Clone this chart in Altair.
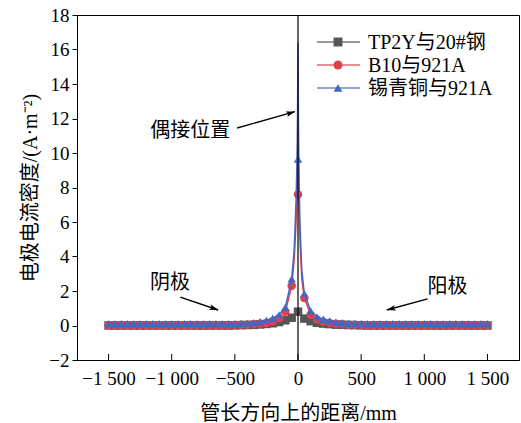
import altair as alt
import pandas as pd

FONT = "Times New Roman, Liberation Serif, Noto Sans CJK SC"

# sample positions (mm) for markers
xs = [-1500, -1450, -1400, -1350, -1300, -1250, -1200, -1150, -1100, -1050,
      -1000, -950, -900, -850, -800, -750, -700, -650, -600, -550,
      -500, -450, -400, -350, -300, -250, -200, -150, -100, -50,
      0,
      50, 100, 150, 200, 250, 300, 350, 400, 450, 500,
      550, 600, 650, 700, 750, 800, 850, 900, 950, 1000,
      1050, 1100, 1150, 1200, 1250, 1300, 1350, 1400, 1450, 1500]

names = ["TP2Y与20#钢", "B10与921A", "锡青铜与921A"]
colors = ["#555555", "#e0404c", "#4468bf"]
shapes = ["square", "circle", "triangle-up"]

black_vals = [0.0, 0.0, 0.0, 0.0, 0.0, 0.0, 0.0, 0.0, 0.0, 0.0,
              0.0, 0.0, 0.0, 0.0, 0.0, 0.0, 0.0, 0.0, 0.0, 0.0,
              0.01, 0.02, 0.03, 0.04, 0.06, 0.09, 0.13, 0.2, 0.3, 0.45,
              0.8,
              0.4, 0.25, 0.16, 0.11, 0.08, 0.05, 0.04, 0.03, 0.02, 0.01,
              0.0, 0.0, 0.0, 0.0, 0.0, 0.0, 0.0, 0.0, 0.0, 0.0,
              0.0, 0.0, 0.0, 0.0, 0.0, 0.0, 0.0, 0.0, 0.0, 0.0]
red_vals = [0.02, 0.02, 0.02, 0.02, 0.02, 0.02, 0.02, 0.02, 0.02, 0.02,
            0.02, 0.02, 0.02, 0.02, 0.02, 0.02, 0.02, 0.02, 0.02, 0.02,
            0.03, 0.04, 0.05, 0.07, 0.1, 0.15, 0.25, 0.42, 0.8, 2.3,
            7.6,
            1.6, 0.62, 0.35, 0.22, 0.15, 0.1, 0.07, 0.05, 0.04, 0.03,
            0.02, 0.02, 0.02, 0.02, 0.02, 0.02, 0.02, 0.02, 0.02, 0.02,
            0.02, 0.02, 0.02, 0.02, 0.02, 0.02, 0.02, 0.02, 0.02, 0.02]
blue_vals = [0.1, 0.1, 0.1, 0.1, 0.1, 0.1, 0.1, 0.1, 0.1, 0.1,
             0.1, 0.1, 0.1, 0.1, 0.1, 0.1, 0.1, 0.1, 0.1, 0.1,
             0.1, 0.12, 0.14, 0.17, 0.22, 0.3, 0.42, 0.62, 1.05, 2.7,
             9.65,
             1.85, 0.85, 0.5, 0.36, 0.27, 0.2, 0.16, 0.13, 0.12, 0.11,
             0.1, 0.1, 0.1, 0.1, 0.1, 0.1, 0.1, 0.1, 0.1, 0.1,
             0.1, 0.1, 0.1, 0.1, 0.1, 0.1, 0.1, 0.1, 0.1, 0.1]

# dense curve points around the coupling position (line only)
spike_x = [-30, -15, -5, 0, 5, 15, 30]
red_spike = [3.8, 6.0, 8.5, 15.0, 8.0, 5.0, 2.7]
blue_spike = [4.4, 7.3, 10.5, 16.4, 10.0, 6.0, 3.2]

# annotations
ann_text = ["偶接位置", "阴极", "阳极"]
ann_x = [-853, -1014, 1184]
ann_y = [11.3, 2.46, 2.23]
arr_x1 = [-482, -932, 1026]
arr_y1 = [11.45, 1.65, 1.54]
arr_x2 = [-24, -632, 703]
arr_y2 = [12.4, 0.9, 0.9]
arr_angle = [72.8, 108.9, 255]

x_ticks = [-1500, -1000, -500, 0, 500, 1000, 1500]
y_ticks = [-2, 0, 2, 4, 6, 8, 10, 12, 14, 16, 18]

W, H = 442, 345
xscale = alt.Scale(domain=[-1750, 1750], nice=False, zero=False)
yscale = alt.Scale(domain=[-2, 18], nice=False, zero=False)

xaxis = alt.Axis(values=x_ticks, tickSize=0, labelPadding=9, titlePadding=15,
                 labelOverlap=False, title="管长方向上的距离/mm",
                 labelExpr="replace(format(datum.value, ','), ',', ' ')")
yaxis = alt.Axis(values=y_ticks, tickSize=5, labelPadding=3, titlePadding=8,
                 labelOverlap=False, title="电极电流密度/(A·m⁻²)")


def X(f):
    return alt.X(f, type="quantitative", scale=xscale, axis=xaxis)


def Y(f):
    return alt.Y(f, type="quantitative", scale=yscale, axis=yaxis)


vals = [black_vals, red_vals, blue_vals]
marker_rows, line_rows = [], []
for i, n in enumerate(names):
    for x, v in zip(xs, vals[i]):
        marker_rows.append({"x": x, "y": v, "s": n})
    if i == 0:
        pts = list(zip(xs, vals[i]))
    else:
        sp = red_spike if i == 1 else blue_spike
        pts = [(x, v) for x, v in zip(xs, vals[i]) if x != 0] + list(zip(spike_x, sp))
    pts.sort()
    for x, v in pts:
        line_rows.append({"x": x, "y": v, "s": n})
mdf = pd.DataFrame(marker_rows)
ldf = pd.DataFrame(line_rows)

layers = []
for i, n in enumerate(names):
    layers.append(alt.Chart(ldf[ldf.s == n]).mark_line(strokeWidth=1.5, color=colors[i]).encode(
        x=X("x"), y=Y("y"), order="x:Q"))
    layers.append(alt.Chart(mdf[mdf.s == n]).mark_point(filled=True, size=72, opacity=1,
                                                        color=colors[i], shape=shapes[i]).encode(
        x=X("x"), y=Y("y")))

# x ticks pointing inward
tdf = pd.DataFrame({"x": x_ticks})
ticks = alt.Chart(tdf).mark_rule(color="black", strokeWidth=1).encode(
    x=X("x"), y=alt.value(H), y2=alt.value(H - 6))

# vertical line at coupling position
vline = alt.Chart(pd.DataFrame({"x": [0]})).mark_rule(color="black", strokeWidth=1.2).encode(
    x=X("x"), y=alt.value(0), y2=alt.value(H))

adf = pd.DataFrame({"t": ann_text, "x": ann_x, "y": ann_y,
                    "x1": arr_x1, "y1": arr_y1, "x2": arr_x2, "y2": arr_y2, "a": arr_angle})
ann = alt.Chart(adf).mark_text(font=FONT, fontSize=20, color="black").encode(
    x=X("x"), y=Y("y"), text="t:N")
arrows = alt.Chart(adf).mark_rule(color="black", strokeWidth=1.4).encode(
    x=X("x1"), y=Y("y1"), x2="x2:Q", y2="y2:Q")
heads = alt.Chart(adf).mark_point(filled=True, color="black", opacity=1, size=110,
                                  shape="M0,0L0.55,1.7L0,1.3L-0.55,1.7Z").encode(
    x=X("x2"), y=Y("y2"), angle=alt.Angle("a:Q", scale=None))

# legend
leg = []
for i, n in enumerate(names):
    d = pd.DataFrame({"t": [n]})
    yy = 27 + 23 * i
    leg.append(alt.Chart(d).mark_rule(color=colors[i], strokeWidth=1.5, opacity=0.8).encode(
        x=alt.value(240), x2=alt.value(283), y=alt.value(yy)))
    leg.append(alt.Chart(d).mark_point(filled=True, size=80, opacity=1, color=colors[i],
                                       shape=shapes[i]).encode(x=alt.value(261), y=alt.value(yy)))
    leg.append(alt.Chart(d).mark_text(font=FONT, fontSize=20, align="left", baseline="middle",
                                      color="black").encode(
        x=alt.value(291), y=alt.value(yy + 1), text="t:N"))

chart = alt.layer(*layers, ticks, vline, arrows, heads, ann, *leg).properties(
    width=W, height=H,
    autosize=alt.AutoSizeParams(type="none"),
    padding={"left": 77, "top": 15, "right": 2, "bottom": 63},
).configure_axis(
    labelFont=FONT, titleFont=FONT, labelFontSize=19, titleFontSize=20,
    labelColor="black", titleColor="black", domainColor="black", tickColor="black",
    titleFontWeight="normal", grid=False, domainWidth=1, tickWidth=1, labelOverlap=False,
).configure_view(stroke="black", strokeWidth=1)

chart.save("out.html", embed_options={"renderer": "svg", "actions": False})
